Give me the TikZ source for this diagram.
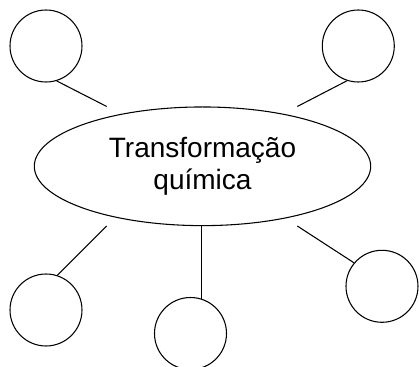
\documentclass[tikz,border=0pt]{standalone}
\usepackage{fontspec}
\setmainfont{Liberation Sans}
\usetikzlibrary{shapes.geometric}
\begin{document}
\begin{tikzpicture}[x=0.75pt,y=-0.75pt,line width=0.8pt,
  bubble/.style={draw,circle,minimum size=54pt,inner sep=0pt},
  hub/.style={draw,ellipse,minimum width=252.3pt,minimum height=89pt,inner sep=0pt,align=center,font=\fontsize{21}{24.3}\selectfont},
  link/.style={draw,line width=0.8pt}]
\useasboundingbox (0,0) rectangle (419,367);
\node[hub] (e) at (202.5,166.3) {Transformação\\química};
\node[bubble] (c1) at (46,46) {};
\node[bubble] (c2) at (358.3,46) {};
\node[bubble] (c3) at (46,310) {};
\node[bubble] (c4) at (190.5,333.5) {};
\node[bubble] (c5) at (382,286.3) {};
\coordinate (a1) at (106.7,106.5);
\coordinate (a2) at (297.3,106.5);
\coordinate (a3) at (106.7,226);
\coordinate (a4) at (297.3,226);
\path[link] (a1) -- (c1.-73);
\path[link] (a2) -- (c2.-108);
\path[link] (a3) -- (c3.72);
\path[link] (c4.72 |- e.south) -- (c4.72);
\path[link] (a4) -- (c5.140.6);
\end{tikzpicture}
\end{document}
